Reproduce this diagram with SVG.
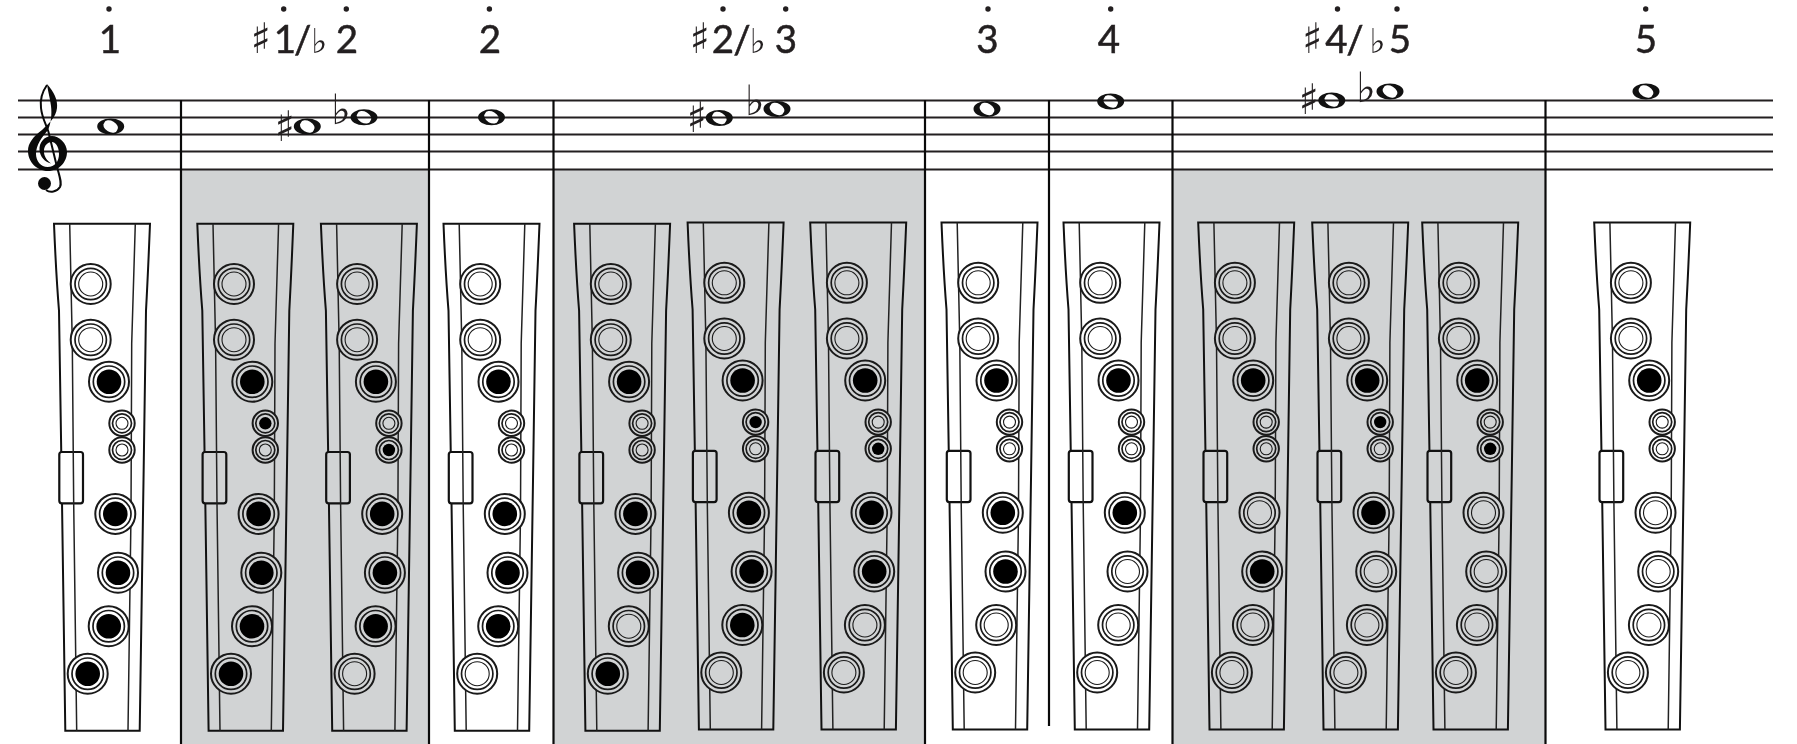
<svg xmlns="http://www.w3.org/2000/svg" width="1797" height="744" viewBox="0 0 1797 744">
<style>
.w{color:#fff}.g{color:#d1d3d4}
.staff line{stroke:#231f20;stroke-width:2}
.bar{stroke:#0a0a0a;stroke-width:2.2}
.ol{fill:currentColor;stroke:#111;stroke-width:2}
.key{fill:currentColor;stroke:#111;stroke-width:2.2}
.il{fill:none;stroke:#222;stroke-width:1.5}
.r1{fill:currentColor;stroke:#1a1a1a;stroke-width:2}
.r2{fill:currentColor;stroke:#1a1a1a;stroke-width:1.7}
.r3{fill:currentColor;stroke:#1a1a1a;stroke-width:1.1}
.b{fill:#000}
.lab{font-family:"Lato","Noto Sans",sans-serif;font-size:38.5px;fill:#231f20;stroke:#231f20;stroke-width:.5;text-anchor:middle}
.acc{font-family:"DejaVu Sans",sans-serif;fill:#231f20;text-anchor:middle}
.dot{fill:#231f20}
.nh{fill:#111;fill-rule:evenodd}
</style>
<defs>
<filter id="flat" x="0" y="0" width="1797" height="744" filterUnits="userSpaceOnUse" color-interpolation-filters="sRGB"><feOffset dx="0" dy="0"/></filter>
<g id="body">
<path class="ol" d="M0 0H96Q94 50 92 87L89.5 257L85.7 507H11.3L7.7 257L5 87Q2 50 0 0Z"/>
<rect x="5.3" y="228.3" width="23.7" height="51.3" rx="2.5" class="key"/>
<path class="il" d="M15.7 0L18.3 120L19.7 280L22.7 507M81.3 0L77.7 120L77 290L74 507"/>
</g>
<g id="bo"><circle r="20" class="r1"/><circle r="15.7" class="r2"/><circle r="12" class="r3"/></g>
<g id="bc"><circle r="20" class="r1"/><circle r="15.7" class="r2"/><circle r="12.3" class="b"/></g>
<g id="so"><circle r="12.7" class="r1"/><circle r="9.5" class="r2"/><circle r="6" class="r3"/></g>
<g id="sc"><circle r="12.7" class="r1"/><circle r="9.5" class="r2"/><circle r="6.2" class="b"/></g>
<path id="note" class="nh" d="M-13.5 0A13.5 8 0 1 0 13.5 0A13.5 8 0 1 0 -13.5 0ZM-6.4 -3.7A7.5 4.8 30 1 0 6.4 3.7A7.5 4.8 30 1 0 -6.4 -3.7Z"/>
</defs>
<rect width="1797" height="744" fill="#fff"/>
<g id="shading" fill="#d1d3d4">
<rect x="181" y="170" width="248" height="574"/>
<rect x="553.5" y="170" width="371.5" height="574"/>
<rect x="1172.5" y="170" width="373.5" height="574"/>
</g>
<g id="staff" class="staff">
<line x1="18" y1="100.5" x2="1773" y2="100.5"/>
<line x1="18" y1="117.5" x2="1773" y2="117.5"/>
<line x1="18" y1="134.5" x2="1773" y2="134.5"/>
<line x1="18" y1="151.5" x2="1773" y2="151.5"/>
<line x1="18" y1="169.5" x2="1773" y2="169.5"/>
</g>
<g id="barlines" class="bar">
<line x1="181" y1="100" x2="181" y2="744"/>
<line x1="429" y1="100" x2="429" y2="744"/>
<line x1="553.5" y1="100" x2="553.5" y2="744"/>
<line x1="925" y1="100" x2="925" y2="744"/>
<line x1="1049" y1="100" x2="1049" y2="726"/>
<line x1="1172.5" y1="100" x2="1172.5" y2="744"/>
<line x1="1545.5" y1="100" x2="1545.5" y2="744"/>
</g>
<g id="clef">
<path fill="#0a0a0a" d="M47 84C54 92 58 100 57 108C56 118 48 124 42 130C33 137 28 143 28 151C28 162 37 171 48 171C59 171 67 162 67 152C67 143 59 136 52 136C44 136 39 143 39.5 150C40 157 45 162 51 163.5C46 160 43.5 155 44 150C44.5 145 48 142 52 142C55 142 59 146 59 154C59 161 55 167 47.5 167C41 167 36 161 36 154C36 145 42 137 48 130C51 123 52 114 51 106C50 98 48 92 47 84Z"/>
<path fill="none" stroke="#0a0a0a" stroke-width="2" d="M47 85C42 92 40 100 41 108C42 118 46 124 48.5 132L57 167C60 178 62 183 60 187C57 192 50 193 46 190"/>
<circle cx="44.5" cy="183.5" r="6.5" fill="#0a0a0a"/>
</g>
<g id="notes" filter="url(#flat)">
<use href="#note" x="110.7" y="126.5"/>
<use href="#note" x="307.3" y="126.5"/>
<use href="#note" x="364" y="117.3"/>
<use href="#note" x="491.5" y="117.3"/>
<use href="#note" x="719.3" y="118"/>
<use href="#note" x="777" y="109"/>
<use href="#note" x="987" y="109"/>
<use href="#note" x="1110.7" y="101.5"/>
<use href="#note" x="1331.8" y="100.5"/>
<use href="#note" x="1390" y="91.5"/>
<use href="#note" x="1646" y="91.5"/>
<text class="acc" x="285" y="141" font-size="42">♯</text>
<text class="acc" x="341" y="124" font-size="42">♭</text>
<text class="acc" x="697" y="132" font-size="42">♯</text>
<text class="acc" x="754.7" y="115" font-size="42">♭</text>
<text class="acc" x="1309" y="114" font-size="42">♯</text>
<text class="acc" x="1366" y="102" font-size="42">♭</text>
</g>
<g id="labels" filter="url(#flat)">
<circle class="dot" cx="109" cy="9" r="2.7"/><text class="lab" x="110" y="52.5">1</text>
<circle class="dot" cx="283.7" cy="9" r="2.7"/><circle class="dot" cx="346.3" cy="9" r="2.7"/>
<text class="acc" x="261" y="53" font-size="42">♯</text><text class="lab" x="285" y="52.5">1</text><text class="lab" x="302.7" y="52.5">/</text><text class="acc" x="319.3" y="53" font-size="34">♭</text><text class="lab" x="347" y="52.5">2</text>
<circle class="dot" cx="489.4" cy="9" r="2.7"/><text class="lab" x="490" y="52.5">2</text>
<circle class="dot" cx="723" cy="9" r="2.7"/><circle class="dot" cx="785.7" cy="9" r="2.7"/>
<text class="acc" x="700" y="53" font-size="42">♯</text><text class="lab" x="723" y="52.5">2</text><text class="lab" x="742" y="52.5">/</text><text class="acc" x="757.7" y="53" font-size="34">♭</text><text class="lab" x="786" y="52.5">3</text>
<circle class="dot" cx="988" cy="9" r="2.7"/><text class="lab" x="987.3" y="52.5">3</text>
<circle class="dot" cx="1110.7" cy="9" r="2.7"/><text class="lab" x="1109" y="52.5">4</text>
<circle class="dot" cx="1337.5" cy="9" r="2.7"/><circle class="dot" cx="1397" cy="9" r="2.7"/>
<text class="acc" x="1312.5" y="53" font-size="42">♯</text><text class="lab" x="1336.4" y="52.5">4</text><text class="lab" x="1355" y="52.5">/</text><text class="acc" x="1377.5" y="53" font-size="34">♭</text><text class="lab" x="1400" y="52.5">5</text>
<circle class="dot" cx="1645.7" cy="9" r="2.7"/><text class="lab" x="1646" y="52.5">5</text>
</g>
<g id="flute-1" class="w" transform="translate(54,223.7)"><use href="#body"/><use href="#bo" x="36.7" y="60.3"/><use href="#bo" x="36.7" y="116"/><use href="#bc" x="55" y="158"/><use href="#so" x="68" y="199.6"/><use href="#so" x="68" y="226.3"/><use href="#bc" x="61.3" y="290.2"/><use href="#bc" x="64" y="349"/><use href="#bc" x="54.7" y="402.5"/><use href="#bc" x="33.7" y="450"/></g>
<g id="flute-2" class="g" transform="translate(197.3,223.7)"><use href="#body"/><use href="#bo" x="36.7" y="60.3"/><use href="#bo" x="36.7" y="116"/><use href="#bc" x="55" y="158"/><use href="#sc" x="68" y="199.6"/><use href="#so" x="68" y="226.3"/><use href="#bc" x="61.3" y="290.2"/><use href="#bc" x="64" y="349"/><use href="#bc" x="54.7" y="402.5"/><use href="#bc" x="33.7" y="450"/></g>
<g id="flute-3" class="g" transform="translate(320.9,223.7)"><use href="#body"/><use href="#bo" x="36.2" y="60.3"/><use href="#bo" x="36.2" y="116"/><use href="#bc" x="55" y="158"/><use href="#so" x="68" y="199.6"/><use href="#sc" x="68" y="226.3"/><use href="#bc" x="61.3" y="290.2"/><use href="#bc" x="64" y="349"/><use href="#bc" x="54.7" y="402.5"/><use href="#bo" x="33.7" y="450"/></g>
<g id="flute-4" class="w" transform="translate(443.5,223.7)"><use href="#body"/><use href="#bo" x="36.7" y="60.3"/><use href="#bo" x="36.7" y="116"/><use href="#bc" x="55" y="158"/><use href="#so" x="68" y="199.6"/><use href="#so" x="68" y="226.3"/><use href="#bc" x="61.3" y="290.2"/><use href="#bc" x="64" y="349"/><use href="#bc" x="54.7" y="402.5"/><use href="#bo" x="33.7" y="450"/></g>
<g id="flute-5" class="g" transform="translate(574.1,223.7)"><use href="#body"/><use href="#bo" x="36.7" y="60.3"/><use href="#bo" x="36.7" y="116"/><use href="#bc" x="55" y="158"/><use href="#so" x="68" y="199.6"/><use href="#so" x="68" y="226.3"/><use href="#bc" x="61.3" y="290.2"/><use href="#bc" x="64" y="349"/><use href="#bo" x="54.7" y="402.5"/><use href="#bc" x="33.7" y="450"/></g>
<g id="flute-6" class="g" transform="translate(687.6,222.5)"><use href="#body"/><use href="#bo" x="36.7" y="60.3"/><use href="#bo" x="36.7" y="116"/><use href="#bc" x="55" y="158"/><use href="#sc" x="68" y="199.6"/><use href="#so" x="68" y="226.3"/><use href="#bc" x="61.3" y="290.2"/><use href="#bc" x="64" y="349"/><use href="#bc" x="54.7" y="402.5"/><use href="#bo" x="33.7" y="450"/></g>
<g id="flute-7" class="g" transform="translate(810.2,222.5)"><use href="#body"/><use href="#bo" x="36.7" y="60.3"/><use href="#bo" x="36.7" y="116"/><use href="#bc" x="55" y="158"/><use href="#so" x="68" y="199.6"/><use href="#sc" x="68" y="226.3"/><use href="#bc" x="61.3" y="290.2"/><use href="#bc" x="64" y="349"/><use href="#bo" x="54.7" y="402.5"/><use href="#bo" x="33.7" y="450"/></g>
<g id="flute-8" class="w" transform="translate(941.5,222.5)"><use href="#body"/><use href="#bo" x="36.7" y="60.3"/><use href="#bo" x="36.7" y="116"/><use href="#bc" x="55" y="158"/><use href="#so" x="68" y="199.6"/><use href="#so" x="68" y="226.3"/><use href="#bc" x="61.3" y="290.2"/><use href="#bc" x="64" y="349"/><use href="#bo" x="54.7" y="402.5"/><use href="#bo" x="33.7" y="450"/></g>
<g id="flute-9" class="w" transform="translate(1063.5,222.5)"><use href="#body"/><use href="#bo" x="36.7" y="60.3"/><use href="#bo" x="36.7" y="116"/><use href="#bc" x="55" y="158"/><use href="#so" x="68" y="199.6"/><use href="#so" x="68" y="226.3"/><use href="#bc" x="61.3" y="290.2"/><use href="#bo" x="64" y="349"/><use href="#bo" x="54.7" y="402.5"/><use href="#bo" x="33.7" y="450"/></g>
<g id="flute-10" class="g" transform="translate(1198.2,222.5)"><use href="#body"/><use href="#bo" x="36.7" y="60.3"/><use href="#bo" x="36.7" y="116"/><use href="#bc" x="55" y="158"/><use href="#so" x="68" y="199.6"/><use href="#so" x="68" y="226.3"/><use href="#bo" x="61.3" y="290.2"/><use href="#bc" x="64" y="349"/><use href="#bo" x="54.7" y="402.5"/><use href="#bo" x="33.7" y="450"/></g>
<g id="flute-11" class="g" transform="translate(1312.2,222.5)"><use href="#body"/><use href="#bo" x="36.7" y="60.3"/><use href="#bo" x="36.7" y="116"/><use href="#bc" x="55" y="158"/><use href="#sc" x="68" y="199.6"/><use href="#so" x="68" y="226.3"/><use href="#bc" x="61.3" y="290.2"/><use href="#bo" x="64" y="349"/><use href="#bo" x="54.7" y="402.5"/><use href="#bo" x="33.7" y="450"/></g>
<g id="flute-12" class="g" transform="translate(1422.2,222.5)"><use href="#body"/><use href="#bo" x="36.7" y="60.3"/><use href="#bo" x="36.7" y="116"/><use href="#bc" x="55" y="158"/><use href="#so" x="68" y="199.6"/><use href="#sc" x="68" y="226.3"/><use href="#bo" x="61.3" y="290.2"/><use href="#bo" x="64" y="349"/><use href="#bo" x="54.7" y="402.5"/><use href="#bo" x="33.7" y="450"/></g>
<g id="flute-13" class="w" transform="translate(1594.2,222.5)"><use href="#body"/><use href="#bo" x="36.7" y="60.3"/><use href="#bo" x="36.7" y="116"/><use href="#bc" x="55" y="158"/><use href="#so" x="68" y="199.6"/><use href="#so" x="68" y="226.3"/><use href="#bo" x="61.3" y="290.2"/><use href="#bo" x="64" y="349"/><use href="#bo" x="54.7" y="402.5"/><use href="#bo" x="33.7" y="450"/></g>
</svg>
